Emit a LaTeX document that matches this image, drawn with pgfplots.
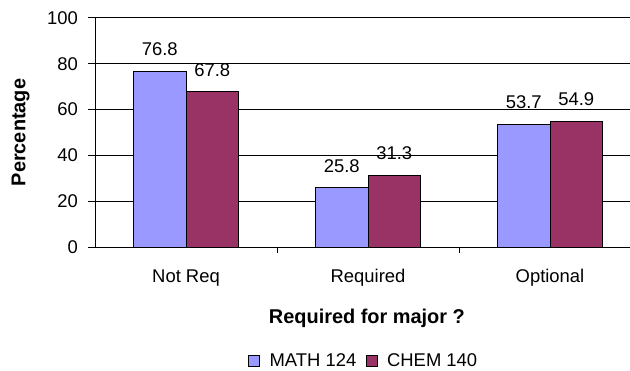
\documentclass[border=0pt]{standalone}
\usepackage{pgfplots}
\pgfplotsset{compat=1.18}
\usepackage{fontspec}
\setmainfont{Liberation Sans}
\definecolor{mathc}{HTML}{9999FF}
\definecolor{chemc}{HTML}{993366}
\newcommand{\regf}{\fontsize{18.5}{21}\selectfont}
\newcommand{\boldf}{\fontsize{20}{23}\selectfont\bfseries}
\begin{document}
\begin{tikzpicture}[x=1bp,y=1bp]
\useasboundingbox (0,0) rectangle (630,370);
\begin{axis}[
  at={(95bp,123bp)}, anchor=south west,
  scale only axis, width=546bp, height=229bp,
  font=\regf,
  /pgf/number format/assume math mode=true,
  xmin=-0.5, xmax=2.5, ymin=0, ymax=100,
  axis x line=bottom, axis y line=left,
  axis line style={-, black, line width=1bp},
  ytick={0,20,...,100},
  ymajorgrids, grid style={black, line width=1bp},
  xtick={0,1,2}, xticklabels={Not Req,Required,Optional},
  minor xtick={0.5,1.5},
  tick align=outside,
  major tick style={black, line width=1bp},
  minor tick style={black, line width=1bp},
  major x tick style={draw=none},
  major tick length=7bp,
  minor tick length=6bp,
  ticklabel style={font=\regf},
  xticklabel style={anchor=center, yshift=-24bp},
  yticklabel style={anchor=east, inner sep=0pt, xshift=-10bp},
  xlabel={Required for major ?},
  ylabel={Percentage},
  xlabel style={font=\boldf, at={(axis description cs:0.498,-0.31)}, anchor=center},
  ylabel style={font=\boldf, at={(axis description cs:-0.136,0.5)}, anchor=center},
  ybar=0pt, bar width=52.5bp,
  nodes near coords,
  nodes near coords style={font=\regf, anchor=center, yshift=22bp, /pgf/number format/.cd, fixed, precision=1, fixed zerofill},
  legend columns=2,
  legend style={at={(axis description cs:0.4918,-0.498)}, anchor=center, draw=none,
    font=\regf, column sep=8bp, inner sep=0pt, nodes={inner sep=1.5bp}},
  legend image code/.code={\draw[#1, draw=black, line width=0.8bp] (0bp,-5.5bp) rectangle (11bp,5.5bp);},
  legend cell align=left,
]
\addplot[fill=mathc, draw=black, line width=1bp] coordinates {(0,76.8) (1,25.8) (2,53.7)};
\addplot[fill=chemc, draw=black, line width=1bp] coordinates {(0,67.8) (1,31.3) (2,54.9)};
\legend{MATH 124,CHEM 140}
\end{axis}
\end{tikzpicture}
\end{document}
